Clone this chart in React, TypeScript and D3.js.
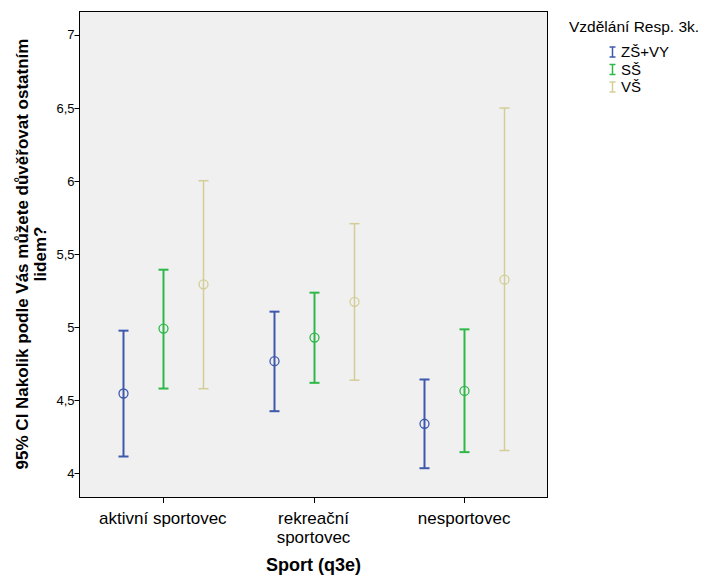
import React from "react";
import * as d3 from "d3";

const categories = ["aktivní sportovec", "rekreační sportovec", "nesportovec"];
const categoryLines = [["aktivní sportovec"], ["rekreační", "sportovec"], ["nesportovec"]];
const groups = ["ZŠ+VY", "SŠ", "VŠ"];
const groupColors = ["#3E58AC", "#2EB848", "#D3CE97"];
// per category, per group
const means = [
  [4.547, 4.991, 5.294],
  [4.768, 4.93, 5.174],
  [4.34, 4.565, 5.326],
];
const lows = [
  [4.116, 4.581, 4.58],
  [4.426, 4.62, 4.638],
  [4.036, 4.146, 4.157],
];
const highs = [
  [4.977, 5.394, 6.003],
  [5.107, 5.237, 5.709],
  [4.643, 4.986, 6.5],
];
const yTicks = [4, 4.5, 5, 5.5, 6, 6.5, 7];

const W = 701, H = 576;
const left = 79.5, right = 547.5, top = 11, bottom = 497;
const FONT = "Arial, 'Liberation Sans', sans-serif";

export default function App() {
  const y = d3.scaleLinear().domain([3.839, 7.164]).range([bottom, top]);
  const x = d3.scalePoint<string>().domain(categories).range([left, right]).padding(0.553);
  const off = d3.scalePoint<string>().domain(groups).range([-40, 40]);
  const fmt = (v: number) => String(v).replace(".", ",");
  return (
    <svg width={W} height={H} style={{ position: "absolute", left: 0, top: 0 }} fontFamily={FONT}>
      <rect x={0} y={0} width={W} height={H} fill="#fff" />
      <rect x={left} y={top + 0.5} width={right - left} height={bottom - top} fill="#F0F0F0" stroke="#000" strokeWidth={1} />
      {yTicks.map((t) => (
        <g key={t}>
          <line x1={left - 5} x2={left} y1={Math.round(y(t)) + 0.5} y2={Math.round(y(t)) + 0.5} stroke="#000" />
          <text x={left - 5} y={y(t) + 4.5} fontSize={13} textAnchor="end" fill="#000">{fmt(t)}</text>
        </g>
      ))}
      {categories.map((c, i) => (
        <g key={c}>
          <line x1={Math.round(x(c)!) + 0.5} x2={Math.round(x(c)!) + 0.5} y1={bottom} y2={bottom + 6} stroke="#000" />
          {categoryLines[i].map((l, j) => (
            <text key={j} x={x(c)!} y={524 + j * 19} fontSize={17} textAnchor="middle" fill="#000">{l}</text>
          ))}
        </g>
      ))}
      {categories.map((c, i) =>
        groups.map((g, k) => {
          const cx = Math.round(x(c)! + off(g)!) + 0.5;
          const sw = k === 2 ? 1.5 : 2;
          const col = groupColors[k];
          return (
            <g key={c + g} stroke={col} fill="none">
              <line x1={cx} x2={cx} y1={y(highs[i][k])} y2={y(lows[i][k])} strokeWidth={sw} />
              <line x1={cx - 5} x2={cx + 5} y1={y(highs[i][k])} y2={y(highs[i][k])} strokeWidth={sw} />
              <line x1={cx - 5} x2={cx + 5} y1={y(lows[i][k])} y2={y(lows[i][k])} strokeWidth={sw} />
              <circle cx={cx} cy={y(means[i][k])} r={4.5} fill="none" strokeWidth={1.3} />
            </g>
          );
        })
      )}
      <text x={x(categories[1])!} y={571} fontSize={18} fontWeight="bold" textAnchor="middle" fill="#000">Sport (q3e)</text>
      <text transform={`translate(28,${(top + bottom) / 2}) rotate(-90)`} fontSize={17} fontWeight="bold" textAnchor="middle" fill="#000">
        95% CI Nakolik podle Vás můžete důvěřovat ostatním
      </text>
      <text transform={`translate(46,${(top + bottom) / 2}) rotate(-90)`} fontSize={17} fontWeight="bold" textAnchor="middle" fill="#000">
        lidem?
      </text>
      <text x={569} y={32} fontSize={15.5} fill="#000">Vzdělání Resp. 3k.</text>
      {groups.map((g, k) => {
        const ly = 57 + k * 17.5;
        const lx = 612.5;
        return (
          <g key={g}>
            <g stroke={groupColors[k]} strokeWidth={1.5}>
              <line x1={lx} x2={lx} y1={ly - 10} y2={ly} />
              <line x1={lx - 3} x2={lx + 3} y1={ly - 10} y2={ly - 10} />
              <line x1={lx - 3} x2={lx + 3} y1={ly} y2={ly} />
            </g>
            <text x={621} y={ly} fontSize={15} fill="#000">{g}</text>
          </g>
        );
      })}
    </svg>
  );
}
